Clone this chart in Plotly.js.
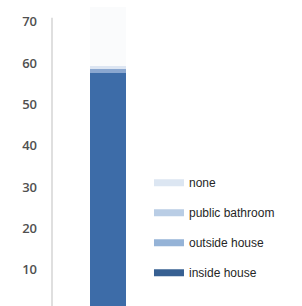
<!DOCTYPE html>
<html>
<head>
<meta charset="utf-8">
<script src="https://cdn.plot.ly/plotly-3.0.1.min.js"></script>
<style>html,body{margin:0;padding:0;background:#fff;}#chart{width:302px;height:306px;}</style>
</head>
<body>
<div id="chart"></div>
<script>
// Data
const categories = ['household'];
const seriesNames = ['inside house', 'outside house', 'public bathroom', 'none'];
const insideHouse = [57.6];
const outsideHouse = [1.0];
const publicBathroom = [0.8];
const noneValues = [14.2];
const tickValues = [10, 20, 30, 40, 50, 60, 70];

const barColors = ['#3d6ca8', '#8aa7d0', '#dce5f2', '#fafbfc'];
const legendColors = ['#376092', '#95b3d7', '#b9cde5', '#dce6f2'];
const seriesValues = [insideHouse, outsideHouse, publicBathroom, noneValues];

const traces = [];
seriesValues.forEach((vals, i) => {
  traces.push({
    type: 'bar', x: categories, y: vals, name: seriesNames[i],
    marker: {color: barColors[i], line: {width: 0}}, showlegend: false,
    hoverinfo: 'none'
  });
});
// legend entries (top to bottom: none, public bathroom, outside house, inside house)
[3, 2, 1, 0].forEach((i) => {
  traces.push({
    type: 'scatter', mode: 'lines', x: [null], y: [null], name: seriesNames[i],
    line: {color: legendColors[i], width: 7}, showlegend: true,
    legendgroup: 'g' + i, hoverinfo: 'none'
  });
});

const layout = {
  width: 302, height: 306,
  margin: {l: 52, r: 138, t: 7, b: 0, pad: 0},
  paper_bgcolor: '#ffffff', plot_bgcolor: '#ffffff',
  barmode: 'stack', bargap: 0.679,
  showlegend: true,
  legend: {
    x: 0.866, xanchor: 'left', y: 0.461, yanchor: 'top',
    traceorder: 'grouped', tracegroupgap: 11,
    font: {family: 'Liberation Sans, Arial, sans-serif', size: 12, color: '#262626'},
    bgcolor: 'rgba(0,0,0,0)', borderwidth: 0
  },
  xaxis: {showticklabels: false, showgrid: false, zeroline: false, showline: false, ticks: '', fixedrange: true},
  yaxis: {
    range: [1.15, 73.6], tickvals: tickValues, ticktext: tickValues.map(String),
    showgrid: false, zeroline: false, showline: false, ticks: '',
    tickfont: {family: 'Open Sans, sans-serif', size: 13, color: '#505050', weight: 600},
    ticklabelstandoff: 14
  },
  shapes: [{
    type: 'line', xref: 'paper', yref: 'y', x0: 0, x1: 0, y0: 1.15, y1: 71.0,
    line: {color: '#d4d4d4', width: 1.5}
  }]
};

Plotly.newPlot('chart', traces, layout, {displayModeBar: false, staticPlot: true});
</script>
</body>
</html>
